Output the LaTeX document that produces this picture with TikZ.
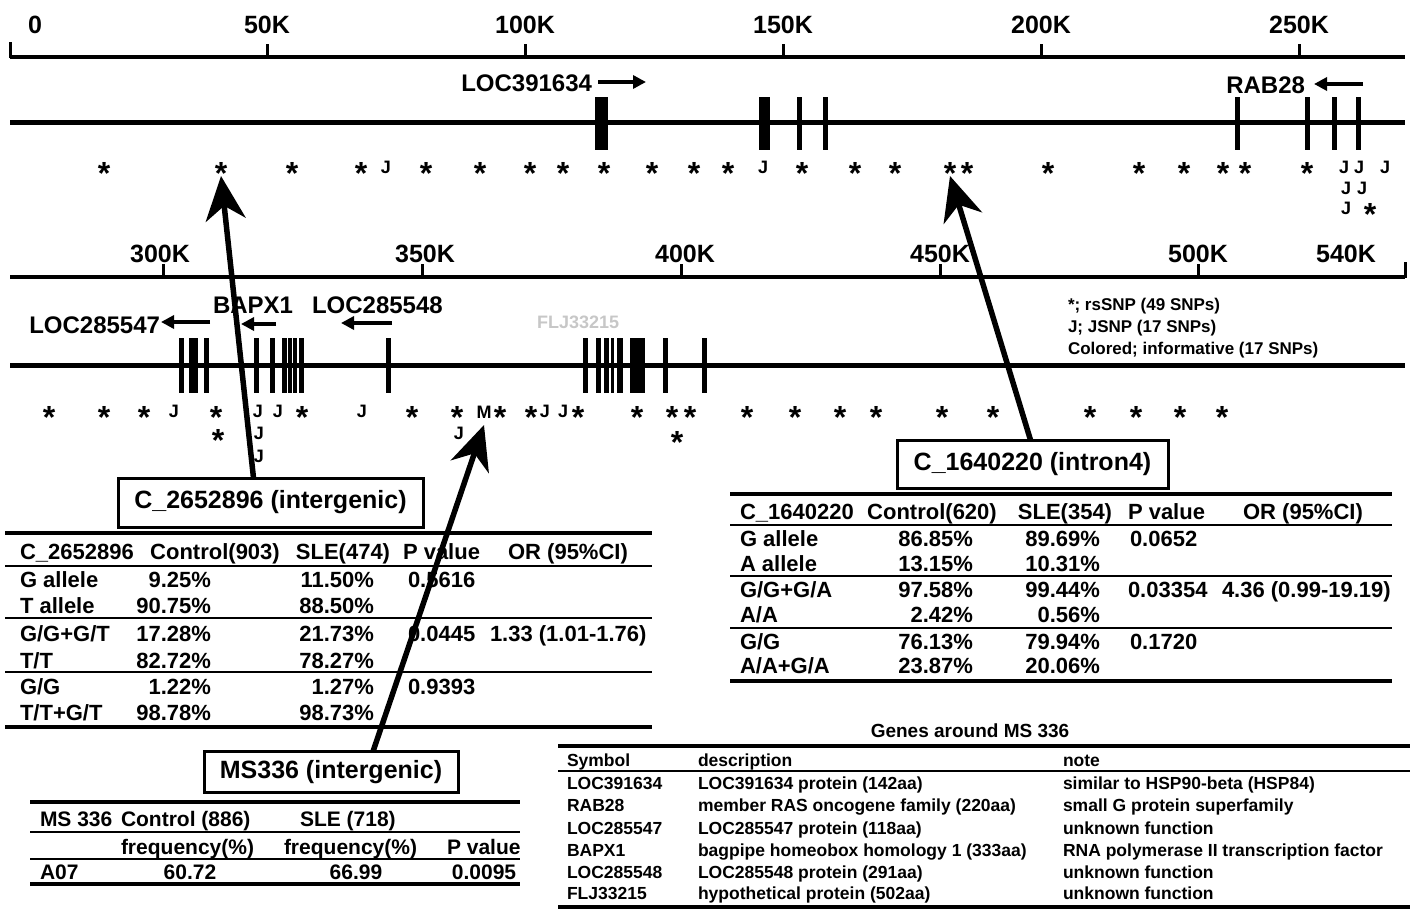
\documentclass[tikz,border=0pt]{standalone}
\usepackage{fontspec}
\setmainfont{Liberation Sans}
\usetikzlibrary{arrows.meta,calc}
\newcommand\fsz[1]{\fontsize{#1}{#1}\selectfont\bfseries}
\begin{document}
\begin{tikzpicture}[x=1pt,y=-1pt,
  every node/.style={inner sep=0pt,outer sep=0pt},
  axisline/.style={line width=3.5pt},
  geneline/.style={line width=5pt},
  tickl/.style={line width=3pt},
  axlab/.style={font=\fsz{25},anchor=base},
  glab/.style={font=\fsz{24}},
  genearrow/.style={line width=4.5pt,-{Triangle[length=13pt,width=13pt]}},
  snpstar/.style={font=\fsz{32},anchor=base},
  snpj/.style={font=\fsz{18},anchor=base},
  leg/.style={font=\fsz{17},anchor=base west},
  callbox/.style={draw,line width=3pt,fill=white,font=\fsz{25}},
  callout/.style={line width=5.5pt,-{Stealth[length=44pt,width=40pt,inset=14pt]}},
  tc/.style={font=\fsz{22}},
  tcs/.style={font=\fsz{21}},
  gc/.style={font=\fsz{17.5},anchor=base west},
  trule/.style={line width=4pt},
  srule/.style={line width=2pt}]
\useasboundingbox (0,0) rectangle (1417,910);

% ---------- first axis ----------
\draw[axisline] (10,57) -- (1405,57);
\draw[tickl] (10,58) -- (10,42);
\node[axlab] (ta0) at (35,33) {0};
\foreach \t/\lab [count=\i] in {267/50K,525/100K,783/150K,1041/200K,1299/250K}{
  \draw[tickl] (\t,57) -- (\t,44);
  \node[axlab] (ta\i) at (\t,33) {\lab};}

% ---------- first gene line ----------
\draw[geneline] (10,122) -- (1405,122);
\foreach \a/\b in {595/608,759/770,797/802,823/828,1235/1240,1305/1310,1332/1337,1356/1361}
  \fill (\a,97) rectangle (\b,150);
\node[glab,anchor=base east] (g1) at (592,91) {LOC391634};
\coordinate (g1a) at (598,82); \coordinate (g1b) at (646,82);
\draw[genearrow] (g1a) -- (g1b);
\node[glab,anchor=base east] (g2) at (1305,93) {RAB28};
\coordinate (g2a) at (1363,84); \coordinate (g2b) at (1314,84);
\draw[genearrow] (g2a) -- (g2b);

% SNPs row 1
\foreach \x [count=\i] in {104,221,292,361,426,480,530,563,604,652,694,728,802,855,895,950,967,1048,1139,1184,1223,1245,1307}
  \node[snpstar] (ra\i) at (\x,184) {*};
\foreach \x [count=\i] in {386,763,1344,1359,1385}
  \node[snpj] (ja\i) at (\x,173) {J};
\node[snpj] (jb1) at (1346,194) {J};
\node[snpj] (jb2) at (1362,194) {J};
\node[snpj] (jc1) at (1346,214) {J};
\node[snpstar] (rc1) at (1370,225) {*};

% ---------- second axis ----------
\draw[axisline] (10,277) -- (1405,277);
\foreach \t [count=\i] in {163,422,681,940,1198}
  \draw[tickl] (\t,277) -- (\t,264);
\draw[tickl] (1405,278) -- (1405,262);
\foreach \t/\lab [count=\i] in {160/300K,425/350K,685/400K,940/450K,1198/500K,1346/540K}
  \node[axlab] (tb\i) at (\t,262) {\lab};

% ---------- second gene line ----------
\draw[geneline] (10,365) -- (1405,365);
\foreach \a/\b in {179/184,189/198,204/209,254/259,270/275,282/287,288/292,293/297,299/304,386/391,
  583/588,596/601,604/609,611/614,617/623,630/645,663/668,702/707}
  \fill (\a,338) rectangle (\b,393);
\node[glab,anchor=base east] (g3) at (160,333) {LOC285547};
\coordinate (g3a) at (210,322); \coordinate (g3b) at (161,322);
\draw[genearrow] (g3a) -- (g3b);
\node[glab,anchor=base west] (g4) at (213,313) {BAPX1};
\coordinate (g4a) at (276,324); \coordinate (g4b) at (241,324);
\draw[genearrow] (g4a) -- (g4b);
\node[glab,anchor=base west] (g5) at (312,313) {LOC285548};
\coordinate (g5a) at (392,323); \coordinate (g5b) at (341,323);
\draw[genearrow] (g5a) -- (g5b);
\node[font=\fsz{18},text=black!22,anchor=base west] (g6) at (537,328) {FLJ33215};

% legend
\node[leg] (lg1) at (1068,310) {*; rsSNP (49 SNPs)};
\node[leg] (lg2) at (1068,332) {J; JSNP (17 SNPs)};
\node[leg] (lg3) at (1068,354) {Colored; informative (17 SNPs)};

% SNPs row 2
\foreach \x [count=\i] in {49,104,144,216,302,412,457,500,531,578,637,672,690,747,795,840,876,942,993,1090,1136,1180,1222}
  \node[snpstar] (rd\i) at (\x,428) {*};
\foreach \x [count=\i] in {174,258,278,362,545,563}
  \node[snpj] (jd\i) at (\x,417) {J};
\node[snpj] (msnp) at (484,418) {M};
\node[snpstar] (re1) at (218,451) {*};
\node[snpj] (je1) at (259,439) {J};
\node[snpj] (je2) at (459,439) {J};
\node[snpstar] (re2) at (677,453) {*};
\node[snpj] (jf1) at (259,462) {J};

% ---------- table 1 ----------
\node[callbox,minimum width=305pt,minimum height=49pt] (box1) at (270.5,502.5) {C\_2652896 (intergenic)};
\draw[trule] (5,533) -- (652,533);
\draw[srule] (5,566) -- (652,566);
\draw[srule] (5,618) -- (652,618);
\draw[srule] (5,672) -- (652,672);
\draw[trule] (5,727) -- (652,727);
\node[tc,anchor=base west] (t1h1) at (20,559) {C\_2652896};
\node[tc,anchor=base] (t1h2) at (215,559) {Control(903)};
\node[tc,anchor=base] (t1h3) at (343,559) {SLE(474)};
\node[tc,anchor=base west] (t1h4) at (403,559) {P value};
\node[tc,anchor=base] (t1h5) at (568,559) {OR (95\%CI)};
\foreach \y/\a/\b/\c [count=\i] in {587/G allele/9.25\%/11.50\%,613/T allele/90.75\%/88.50\%,
  641/G\slash G+G\slash T/17.28\%/21.73\%,668/T\slash T/82.72\%/78.27\%,
  694/G\slash G/1.22\%/1.27\%,720/T\slash T+G\slash T/98.78\%/98.73\%}{
  \node[tc,anchor=base west] (t1a\i) at (20,\y) {\a};
  \node[tc,anchor=base east] (t1b\i) at (211,\y) {\b};
  \node[tc,anchor=base east] (t1c\i) at (374,\y) {\c};}
\node[tc,anchor=base west] (t1p1) at (408,587) {0.5616};
\node[tc,anchor=base west] (t1p2) at (408,641) {0.0445};
\node[tc,anchor=base west] (t1p3) at (408,694) {0.9393};
\node[tc,anchor=base west] (t1o1) at (490,641) {1.33 (1.01-1.76)};

% ---------- table 2 ----------
\node[callbox,minimum width=271pt,minimum height=48pt] (box2) at (1032.5,464) {C\_1640220 (intron4)};
\draw[trule] (730,494) -- (1392,494);
\draw[srule] (730,525) -- (1392,525);
\draw[srule] (730,576) -- (1392,576);
\draw[srule] (730,628) -- (1392,628);
\draw[trule] (730,681) -- (1392,681);
\node[tc,anchor=base west] (t2h1) at (740,519) {C\_1640220};
\node[tc,anchor=base] (t2h2) at (932,519) {Control(620)};
\node[tc,anchor=base] (t2h3) at (1065,519) {SLE(354)};
\node[tc,anchor=base west] (t2h4) at (1128,519) {P value};
\node[tc,anchor=base] (t2h5) at (1303,519) {OR (95\%CI)};
\foreach \y/\a/\b/\c [count=\i] in {546/G allele/86.85\%/89.69\%,571/A allele/13.15\%/10.31\%,
  597/G\slash G+G\slash A/97.58\%/99.44\%,622/A\slash A/2.42\%/0.56\%,
  649/G\slash G/76.13\%/79.94\%,673/A\slash A+G\slash A/23.87\%/20.06\%}{
  \node[tc,anchor=base west] (t2a\i) at (740,\y) {\a};
  \node[tc,anchor=base east] (t2b\i) at (973,\y) {\b};
  \node[tc,anchor=base east] (t2c\i) at (1100,\y) {\c};}
\node[tc,anchor=base west] (t2p1) at (1130,546) {0.0652};
\node[tc,anchor=base west] (t2p2) at (1128,597) {0.03354};
\node[tc,anchor=base west] (t2p3) at (1130,649) {0.1720};
\node[tc,anchor=base west] (t2o1) at (1222,597) {4.36 (0.99-19.19)};

% ---------- table 3 ----------
\node[callbox,minimum width=254pt,minimum height=41pt] (box3) at (331,772) {MS336 (intergenic)};
\draw[trule] (30,802) -- (520,802);
\draw[srule] (30,832) -- (520,832);
\draw[srule] (30,859) -- (520,859);
\draw[trule] (30,884) -- (520,884);
\node[tcs,anchor=base west] (t3a1) at (40,826) {MS 336};
\node[tcs,anchor=base west] (t3a2) at (121,826) {Control (886)};
\node[tcs,anchor=base west] (t3a3) at (300,826) {SLE (718)};
\node[tcs,anchor=base west] (t3b1) at (121,854) {frequency(\%)};
\node[tcs,anchor=base west] (t3b2) at (284,854) {frequency(\%)};
\node[tcs,anchor=base west] (t3b3) at (447,854) {P value};
\node[tcs,anchor=base west] (t3c1) at (40,879) {A07};
\node[tcs,anchor=base] (t3c2) at (190,879) {60.72};
\node[tcs,anchor=base] (t3c3) at (356,879) {66.99};
\node[tcs,anchor=base] (t3c4) at (484,879) {0.0095};

% ---------- table 4 ----------
\node[font=\fsz{19},anchor=base] (t4t) at (970,737) {Genes around MS 336};
\draw[trule] (558,746) -- (1410,746);
\draw[srule] (558,771) -- (1410,771);
\draw[trule] (558,907) -- (1410,907);
\node[gc] (t4h1) at (567,766) {Symbol};
\node[gc] (t4h2) at (698,766) {description};
\node[gc] (t4h3) at (1063,766) {note};
\foreach \y/\a/\b/\c [count=\i] in {789/LOC391634/LOC391634 protein (142aa)/similar to HSP90-beta (HSP84),
  811/RAB28/member RAS oncogene family (220aa)/small G protein superfamily,
  834/LOC285547/LOC285547 protein (118aa)/unknown function,
  856/BAPX1/bagpipe homeobox homology 1 (333aa)/RNA polymerase II transcription factor,
  878/LOC285548/LOC285548 protein (291aa)/unknown function,
  899/FLJ33215/hypothetical protein (502aa)/unknown function}{
  \node[gc] (t4a\i) at (567,\y) {\a};
  \node[gc] (t4b\i) at (698,\y) {\b};
  \node[gc] (t4c\i) at (1063,\y) {\c};}

% ---------- callout arrows ----------
\draw[callout] ($(box1.north)+(-17,0)$) -- ($(ra2.south)+(0,-8)$);
\draw[callout] ($(box3.north)+(42,0)$) -- ($(msnp.south)+(0,7)$);
\draw[callout] ($(box2.north)+(-2,0)$) -- ($(ra16.south)+(0,-8)$);
\end{tikzpicture}
\end{document}
